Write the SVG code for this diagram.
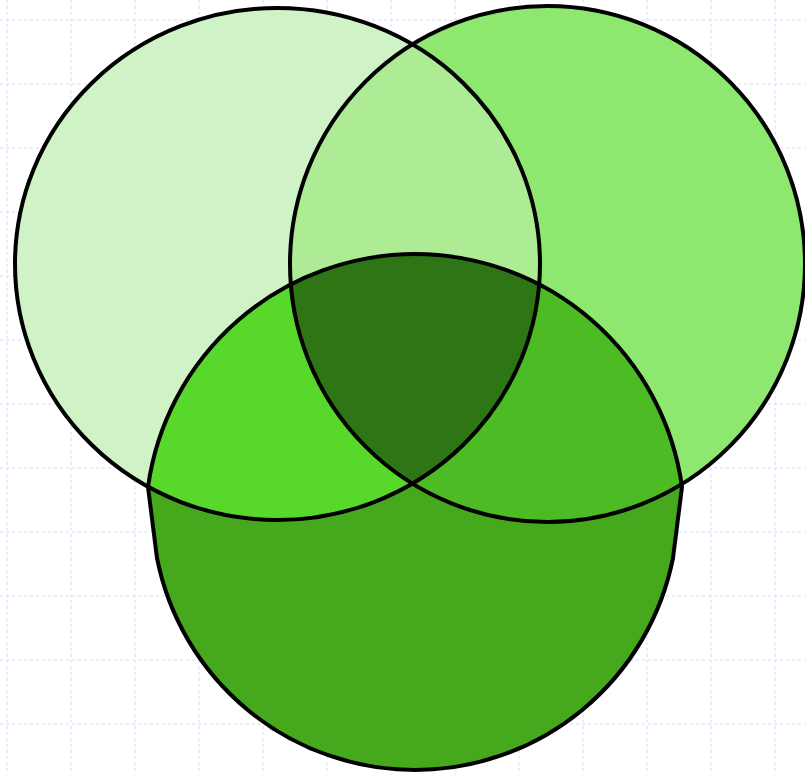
<svg xmlns="http://www.w3.org/2000/svg" width="805" height="775" viewBox="0 0 805 775">
<style>
.grid line{stroke:#d4dcf6;stroke-width:1;stroke-dasharray:3 3}
.edge{fill:none;stroke:#000;stroke-width:4;stroke-linejoin:round}
</style>
<defs>
<ellipse id="shA" cx="277.5" cy="264" rx="262.5" ry="256"/>
<ellipse id="shB" cx="547.5" cy="264" rx="257.5" ry="258"/>
<path id="shC" d="M148,487 A269.5,269.5 0 0 1 682,487 L673,558 A263,263 0 0 1 157,558 Z"/>
<clipPath id="clipA"><use href="#shA"/></clipPath>
<clipPath id="clipB"><use href="#shB"/></clipPath>
<clipPath id="clipC"><use href="#shC"/></clipPath>
</defs>
<rect width="805" height="775" fill="#fff"/>
<g class="grid">
<line x1="7" y1="0" x2="7" y2="775"/><line x1="71" y1="0" x2="71" y2="775"/><line x1="135" y1="0" x2="135" y2="775"/><line x1="199" y1="0" x2="199" y2="775"/><line x1="263" y1="0" x2="263" y2="775"/><line x1="327" y1="0" x2="327" y2="775"/><line x1="391" y1="0" x2="391" y2="775"/><line x1="455" y1="0" x2="455" y2="775"/><line x1="519" y1="0" x2="519" y2="775"/><line x1="583" y1="0" x2="583" y2="775"/><line x1="647" y1="0" x2="647" y2="775"/><line x1="711" y1="0" x2="711" y2="775"/><line x1="775" y1="0" x2="775" y2="775"/>
<line x1="0" y1="20" x2="805" y2="20"/><line x1="0" y1="84" x2="805" y2="84"/><line x1="0" y1="148" x2="805" y2="148"/><line x1="0" y1="212" x2="805" y2="212"/><line x1="0" y1="276" x2="805" y2="276"/><line x1="0" y1="340" x2="805" y2="340"/><line x1="0" y1="404" x2="805" y2="404"/><line x1="0" y1="468" x2="805" y2="468"/><line x1="0" y1="532" x2="805" y2="532"/><line x1="0" y1="596" x2="805" y2="596"/><line x1="0" y1="660" x2="805" y2="660"/><line x1="0" y1="724" x2="805" y2="724"/>
</g>
<g id="setA"><use href="#shA" fill="#cff3c6"/></g>
<g id="setB"><use href="#shB" fill="#8ee76e"/></g>
<g id="setAB"><use href="#shA" fill="#aeeb95" clip-path="url(#clipB)"/></g>
<g id="setC"><use href="#shC" fill="#45a81d"/></g>
<g id="setAC"><use href="#shC" fill="#58d82a" clip-path="url(#clipA)"/></g>
<g id="setBC"><use href="#shC" fill="#4dbb23" clip-path="url(#clipB)"/></g>
<g id="setABC" clip-path="url(#clipC)"><use href="#shA" fill="#2e7516" clip-path="url(#clipB)"/></g>
<g id="outlines">
<use href="#shA" class="edge"/>
<use href="#shB" class="edge"/>
<use href="#shC" class="edge"/>
</g>
</svg>
